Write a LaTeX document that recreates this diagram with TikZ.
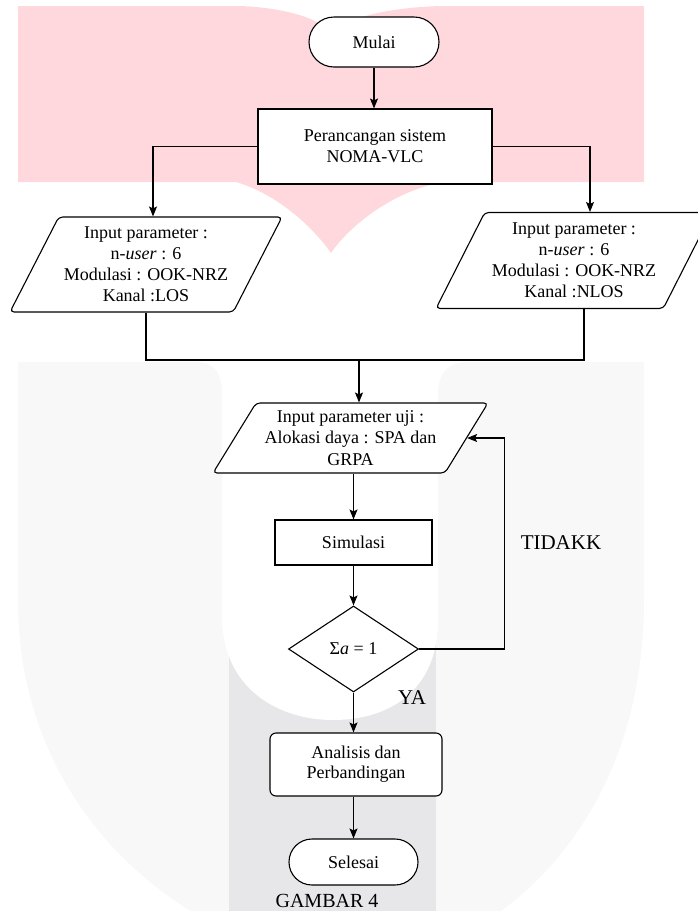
\documentclass[tikz,border=0pt]{standalone}
\usepackage{fontspec}
\setmainfont{Liberation Serif}
\usetikzlibrary{shapes.geometric,arrows.meta}

\definecolor{wmpink}{RGB}{255,216,222}
\definecolor{wmgrey}{RGB}{248,248,248}
\definecolor{wmband}{RGB}{231,231,234}

\begin{document}
\begin{tikzpicture}[x=1pt,y=-1pt,
	every node/.style={font=\fontsize{18}{21}\selectfont, text=black, align=center, inner sep=0pt},
	terminal/.style={draw=black, fill=white, line width=1.1pt, shape=rectangle, rounded corners=23pt, minimum width=129pt, minimum height=46pt},
	process/.style={draw=black, fill=white, line width=1.1pt, shape=rectangle},
	io/.style={draw=black, fill=white, line width=1.1pt, shape=trapezium, trapezium left angle=57, trapezium right angle=123, trapezium stretches body, rounded corners=4pt},
	decision/.style={draw=black, fill=white, line width=1.1pt, shape=diamond, minimum width=130pt, minimum height=86pt},
	label/.style={font=\fontsize{21}{24}\selectfont},
	line/.style={line width=1.1pt},
	arrow/.style={line width=1.1pt, -{Stealth[length=10pt,width=8pt,inset=2pt]}}]
	\useasboundingbox (0,0) rectangle (697,911);

	% watermark
	\fill[wmpink] (18,6) -- (240,6) .. controls (290,8) and (320,20) .. (331,32) .. controls (345,20) and (380,8) .. (440,6) -- (644,6) -- (644,182) -- (444,182) .. controls (395,190) and (350,225) .. (331,253) .. controls (315,230) and (280,195) .. (236,182) -- (18,182) -- cycle;
	\fill[wmgrey] (18,362) -- (644,362) -- (644,600) .. controls (644,760) and (570,870) .. (480,925) -- (215,925) .. controls (110,870) and (18,760) .. (18,600) -- cycle;
	\fill[wmband] (229,560) rectangle (436,911);
	\fill[white] (195,362) .. controls (215,362) and (222,372) .. (222,395) -- (222,620) .. controls (224,690) and (280,720) .. (333,720) .. controls (390,720) and (438,690) .. (438,620) -- (438,395) .. controls (438,372) and (448,362) .. (470,362) -- cycle;

	% flowchart
	\node[terminal, minimum width=130pt, minimum height=50pt, rounded corners=25pt] (t_mulai) at (374,42) {Mulai};
	\node[process, minimum width=234pt, minimum height=75pt] (p_rancang) at (375,146.5) {Perancangan sistem\\NOMA-VLC};
	\node[io, minimum width=272pt, minimum height=95pt] (io_los) at (146,264.5) {Input parameter :\\n-\textit{user} : 6\\Modulasi : OOK-NRZ\\Kanal :LOS};
	\node[io, minimum width=276pt, minimum height=96pt] (io_nlos) at (574,260.5) {Input parameter :\\n-\textit{user} : 6\\Modulasi : OOK-NRZ\\Kanal :NLOS};
	\node[io, trapezium left angle=52, trapezium right angle=128, minimum width=275pt, minimum height=70pt, font=\fontsize{18}{21.5}\selectfont] (io_uji) at (350.5,438) {Input parameter uji :\\Alokasi daya : SPA dan\\GRPA};
	\node[process, minimum width=157pt, minimum height=45pt] (p_sim) at (353.5,542.5) {Simulasi};
	\node[decision] (d_cek) at (353.5,649) {Σ\textit{a} = 1};
	\node[process, rounded corners=6pt, minimum width=172pt, minimum height=63pt, font=\fontsize{18}{20}\selectfont] (p_analisis) at (356,764.5) {Analisis dan\\Perbandingan};
	\node[terminal] (t_selesai) at (353.5,862) {Selesai};

	\node[label] (l_tidak) at (561,543) {TIDAKK};
	\node[label] (l_ya) at (412,698) {YA};
	\node[label, font=\fontsize{20}{24}\selectfont] (l_gambar) at (327,901) {GAMBAR 4};

	\coordinate (merge) at (359,360);

	\draw[arrow] (t_mulai.south) -- (t_mulai.south |- p_rancang.north);
	\draw[arrow] (p_rancang.west) -| ([xshift=7pt]io_los.north);
	\draw[arrow] (p_rancang.east) -| ([xshift=16pt]io_nlos.north);
	\draw[line] (io_los.south) |- (merge) -| ([xshift=10pt]io_nlos.south);
	\draw[arrow] (merge) -- (merge |- io_uji.north);
	\draw[arrow] (p_sim.north |- io_uji.south) -- (p_sim.north);
	\draw[arrow] (p_sim.south) -- (d_cek.north);
	\draw[arrow] (d_cek.east) -- ++(85,0) |- (io_uji.east);
	\draw[arrow] (d_cek.south) -- (d_cek.south |- p_analisis.north);
	\draw[arrow] (t_selesai.north |- p_analisis.south) -- (t_selesai.north);
\end{tikzpicture}
\end{document}
